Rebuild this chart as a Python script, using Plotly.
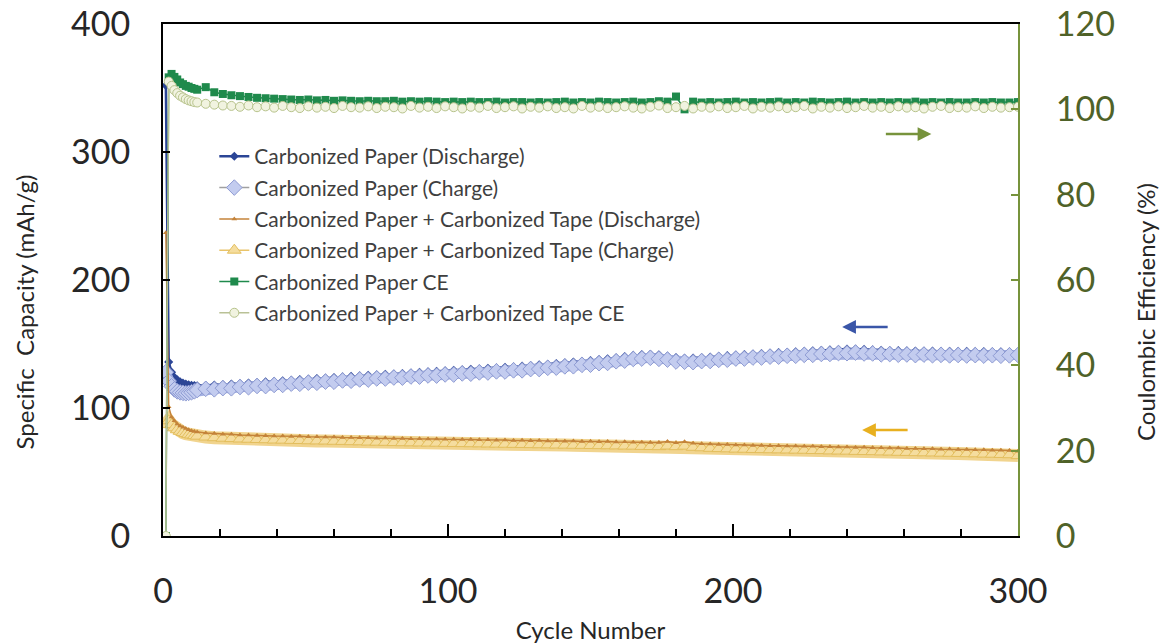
import plotly.graph_objects as go

# Cycle numbers (1..11 every cycle, then every 3rd cycle up to 300)
cycles = list(range(1, 12)) + list(range(12, 301, 3))

paper_discharge = [352, 136, 128, 124, 122, 120.5, 119.5, 118.8, 118.2, 117.8, 117.5,
    117.4, 117.6, 117.9, 118.3, 118.7, 119.1, 119.5, 119.9, 120.4, 120.8,
    121.3, 121.7, 122.2, 122.6, 123.0, 123.4, 123.8, 124.3, 124.7, 125.1,
    125.5, 125.9, 126.3, 126.6, 127.0, 127.4, 127.8, 128.2, 128.6, 129.0,
    129.4, 129.8, 130.2, 130.6, 131.0, 131.4, 131.8, 132.2, 132.7, 133.2,
    133.7, 134.2, 134.8, 135.3, 135.9, 136.5, 137.1, 137.8, 138.5, 139.3,
    140.2, 141.1, 141.8, 142.0, 141.6, 140.6, 139.5, 138.9, 139.0, 139.4,
    139.9, 140.4, 140.9, 141.4, 141.8, 142.2, 142.6, 142.9, 143.3, 143.6,
    144.0, 144.3, 144.7, 145.0, 145.4, 145.7, 146.0, 146.1, 145.8, 145.4,
    145.1, 144.9, 144.8, 144.6, 144.5, 144.5, 144.4, 144.3, 144.3, 144.2,
    144.2, 144.1, 144.1, 144.0, 144.0, 143.9, 143.8]

paper_charge = [128, 121, 117, 114.5, 113, 112.2, 111.8, 111.5, 111.8, 112.3, 113.0,
    114.0, 115.0, 114.6, 115.5, 115.4, 116.4, 116.2, 117.2, 117.1, 118.0,
    118.0, 119.0, 118.9, 119.8, 119.7, 120.6, 120.5, 121.5, 121.3, 122.3,
    122.2, 123.1, 123.0, 123.8, 123.7, 124.6, 124.5, 125.4, 125.3, 126.2,
    126.1, 127.0, 126.8, 127.8, 127.7, 128.6, 128.5, 129.4, 129.4, 130.4,
    130.4, 131.4, 131.5, 132.5, 132.6, 133.7, 133.8, 135.0, 135.2, 136.5,
    137.0, 138.3, 138.6, 139.2, 138.4, 137.8, 136.3, 136.1, 135.8, 136.6,
    136.7, 137.6, 137.7, 138.6, 138.6, 139.4, 139.4, 140.1, 140.1, 140.8,
    140.8, 141.5, 141.5, 142.2, 142.2, 142.9, 142.8, 143.3, 142.6, 142.6,
    141.9, 142.1, 141.6, 141.8, 141.3, 141.7, 141.2, 141.5, 141.1, 141.4,
    141.0, 141.3, 140.9, 141.2, 140.8, 141.1, 141.4]

tape_discharge = [237, 101, 93, 90, 87.5, 86, 85, 84, 83, 82.3, 81.7,
    81.3, 80.4, 80.1, 79.5, 79.4, 78.9, 78.9, 78.5, 78.4, 78.1,
    78.2, 77.8, 77.9, 77.5, 77.6, 77.3, 77.3, 77.0, 77.0, 76.7,
    76.7, 76.4, 76.5, 76.1, 76.2, 75.9, 76.0, 75.7, 75.8, 75.5,
    75.6, 75.3, 75.4, 75.1, 75.2, 74.9, 75.0, 74.7, 74.8, 74.5,
    74.6, 74.3, 74.4, 74.1, 74.2, 73.9, 74.0, 73.7, 73.8, 73.5,
    73.6, 73.3, 73.3, 73.0, 73.1, 73.8, 72.9, 73.6, 72.5, 72.0,
    71.8, 71.4, 71.4, 71.0, 71.1, 70.7, 70.8, 70.5, 70.6, 70.3,
    70.4, 70.1, 70.1, 69.8, 69.8, 69.5, 69.6, 69.2, 69.3, 69.0,
    69.0, 68.7, 68.7, 68.4, 68.4, 68.1, 68.2, 67.8, 67.9, 67.6,
    67.6, 67.3, 67.3, 67.0, 67.0, 66.7, 66.3]

tape_charge = [87, 90, 87, 84.5, 83, 81.8, 80.8, 80.0, 79.4, 78.9, 78.4,
    78.0, 77.3, 76.8, 76.4, 76.1, 75.8, 75.6, 75.4, 75.2, 75.0,
    74.9, 74.7, 74.6, 74.4, 74.3, 74.2, 74.0, 73.9, 73.7, 73.6,
    73.4, 73.3, 73.2, 73.0, 72.9, 72.8, 72.7, 72.6, 72.5, 72.4,
    72.3, 72.2, 72.1, 72.0, 71.9, 71.8, 71.7, 71.6, 71.5, 71.4,
    71.3, 71.2, 71.1, 71.0, 70.9, 70.8, 70.7, 70.6, 70.5, 70.4,
    70.3, 70.2, 70.0, 69.9, 69.8, 70.3, 69.8, 70.2, 69.3, 68.9,
    68.5, 68.3, 68.1, 67.9, 67.8, 67.6, 67.5, 67.4, 67.3, 67.2,
    67.1, 67.0, 66.8, 66.7, 66.5, 66.4, 66.3, 66.1, 66.0, 65.9,
    65.7, 65.6, 65.4, 65.3, 65.1, 65.0, 64.9, 64.7, 64.6, 64.5,
    64.3, 64.2, 64.0, 63.9, 63.7, 63.5, 62.8]

paper_ce = [0, 107.5, 108.3, 107.6, 107.0, 106.3, 105.9, 105.5, 105.3, 105.0, 104.8,
    104.6, 105.2, 104.0, 103.6, 103.3, 103.1, 102.9, 102.7, 102.6, 102.5,
    102.4, 102.3, 102.2, 102.3, 102.1, 102.2, 102.0, 102.1, 102.0, 101.9,
    102.0, 101.9, 101.9, 102.0, 101.8, 101.9, 101.8, 101.9, 101.8, 101.7,
    101.8, 101.7, 101.8, 101.7, 101.7, 101.8, 101.6, 101.7, 101.7, 101.6,
    101.7, 101.6, 101.7, 101.8, 101.6, 101.7, 101.6, 101.8, 101.7, 101.6,
    101.7, 101.8, 101.6, 101.7, 101.9, 101.8, 103.0, 100.0, 101.8, 101.6,
    101.7, 101.6, 101.7, 101.8, 101.6, 101.7, 101.6, 101.7, 101.8, 101.6,
    101.7, 101.6, 101.8, 101.7, 101.6, 101.7, 101.8, 101.6, 101.7, 101.6,
    101.7, 101.6, 101.7, 101.6, 101.8, 101.6, 101.7, 101.6, 101.7, 101.6,
    101.6, 101.7, 101.6, 101.7, 101.6, 101.6, 101.7]

tape_ce = [0, 106.5, 105.5, 104.5, 103.8, 103.2, 102.8, 102.4, 102.1, 101.9, 101.7,
    101.6, 101.3, 101.1, 100.9, 100.8, 100.6, 100.9, 100.5, 100.7, 100.4,
    100.8, 100.5, 100.3, 100.7, 100.4, 100.6, 100.3, 100.8, 100.5, 100.4,
    100.7, 100.3, 100.6, 100.5, 100.2, 100.8, 100.4, 100.6, 100.3, 100.7,
    100.5, 100.2, 100.6, 100.4, 100.8, 100.3, 100.5, 100.7, 100.2, 100.6,
    100.4, 100.7, 100.3, 100.5, 100.2, 100.8, 100.4, 100.6, 100.3, 100.5,
    100.7, 100.4, 100.2, 100.6, 100.9, 100.3, 100.5, 100.8, 100.2, 100.6,
    100.4, 100.7, 100.3, 100.5, 100.8, 100.2, 100.6, 100.4, 100.7, 100.3,
    100.5, 100.8, 100.2, 100.6, 100.4, 100.7, 100.3, 100.5, 100.8, 100.4,
    100.6, 100.3, 100.7, 100.4, 100.5, 100.2, 100.6, 100.8, 100.3, 100.5,
    100.4, 100.7, 100.3, 100.6, 100.4, 100.5, 100.6]

FONT = "Lato"
fig = go.Figure()

fig.add_trace(go.Scatter(x=cycles, y=paper_discharge, name="Carbonized Paper (Discharge)",
    legendrank=1, legendgroup="g1",
    mode="lines+markers", line=dict(color="#2B4596", width=2.5),
    marker=dict(symbol="diamond", size=7, color="#2B4596")))
fig.add_trace(go.Scatter(x=cycles, y=paper_charge, showlegend=False, hoverinfo="skip", legendgroup="g2",
    mode="lines", line=dict(color="#A3B0E2", width=10)))
fig.add_trace(go.Scatter(x=cycles, y=paper_charge, name="Carbonized Paper (Charge)",
    legendrank=2, legendgroup="g2",
    mode="lines+markers", line=dict(color="#A0A0A0", width=1.5),
    marker=dict(symbol="diamond", size=12, color="#C3CCEF", line=dict(color="#8E9BD3", width=1))))
fig.add_trace(go.Scatter(x=cycles, y=tape_charge, showlegend=False, hoverinfo="skip", legendgroup="g4",
    mode="lines", line=dict(color="#F1D48E", width=13)))
fig.add_trace(go.Scatter(x=cycles, y=tape_charge, name="Carbonized Paper + Carbonized Tape (Charge)",
    legendrank=4, legendgroup="g4",
    mode="lines+markers", line=dict(color="#E9C46A", width=1.5),
    marker=dict(symbol="triangle-up", size=12, color="#F5DD9E", line=dict(color="#E3BE5E", width=1))))
fig.add_trace(go.Scatter(x=cycles, y=tape_discharge, name="Carbonized Paper + Carbonized Tape (Discharge)",
    legendrank=3, legendgroup="g3",
    mode="lines+markers", line=dict(color="#C4833A", width=1.5),
    marker=dict(symbol="triangle-up", size=5, color="#C4833A")))
fig.add_trace(go.Scatter(x=cycles, y=paper_ce, name="Carbonized Paper CE", yaxis="y2",
    legendrank=5, legendgroup="g5",
    mode="lines+markers", line=dict(color="#1F8A4C", width=1.5),
    marker=dict(symbol="square", size=8, color="#1F8A4C")))
fig.add_trace(go.Scatter(x=cycles, y=tape_ce, name="Carbonized Paper + Carbonized Tape CE", yaxis="y2",
    legendrank=6, legendgroup="g6",
    mode="lines+markers", line=dict(color="#B9C196", width=1.5),
    marker=dict(symbol="circle", size=9, color="#F1F3E0", line=dict(color="#B7C38C", width=1))))

# arrows
fig.add_annotation(x=238.3, y=163.3, xref="x", yref="y", ax=47, ay=0, text="",
    showarrow=True, arrowhead=2, arrowsize=1.1, arrowwidth=2.5, arrowcolor="#3A56A8")
fig.add_annotation(x=245.3, y=82.8, xref="x", yref="y", ax=47, ay=0, text="",
    showarrow=True, arrowhead=2, arrowsize=1.1, arrowwidth=2.5, arrowcolor="#E8B020")
fig.add_annotation(x=269.6, y=94.2, xref="x", yref="y2", ax=-47, ay=0, text="",
    showarrow=True, arrowhead=2, arrowsize=1.1, arrowwidth=2.5, arrowcolor="#77933C")

# y-axis titles (placed as annotations to match the reference position)
fig.add_annotation(x=-0.162, y=0.4375, xref="paper", yref="paper", text="Specific  Capacity (mAh/g)",
    showarrow=False, textangle=-90, xanchor="center", yanchor="middle",
    font=dict(family=FONT, size=24, color="#262626"))
fig.add_annotation(x=1.1485, y=0.4375, xref="paper", yref="paper", text="Coulombic Efficiency (%)",
    showarrow=False, textangle=-90, xanchor="center", yanchor="middle",
    font=dict(family=FONT, size=24, color="#262626"))

fig.update_layout(
    width=1170, height=644,
    margin=dict(l=163, r=152, t=24, b=108),
    paper_bgcolor="white", plot_bgcolor="white",
    font=dict(family=FONT, color="#262626"),
    showlegend=True,
    legend=dict(x=0.06, y=0.781, xanchor="left", yanchor="top", traceorder="grouped",
        bgcolor="rgba(0,0,0,0)", font=dict(family=FONT, size=21, color="#3F3F3F"),
        tracegroupgap=1),
    xaxis=dict(range=[0, 300], dtick=100, tick0=0, showgrid=False, zeroline=False, automargin=False,
        showline=True, linecolor="black", linewidth=2, mirror=True,
        ticks="inside", ticklen=12, tickwidth=2, tickcolor="black",
        minor=dict(dtick=20, ticks="inside", ticklen=7, tickwidth=2, tickcolor="black"),
        tickfont=dict(family=FONT, size=34, color="#262626"), ticklabelstandoff=24,
        ticklabeloverflow="allow",
        title=dict(text="Cycle Number", font=dict(family=FONT, size=24, color="#262626"), standoff=30)),
    yaxis=dict(range=[0, 400], dtick=100, showgrid=False, zeroline=False, automargin=False,
        showline=True, linecolor="black", linewidth=2,
        ticks="inside", ticklen=7, tickwidth=2, tickcolor="black", ticklabeloverflow="allow",
        tickfont=dict(family=FONT, size=34, color="#262626"), ticklabelstandoff=24),
    yaxis2=dict(range=[0, 120], dtick=20, overlaying="y", side="right", showgrid=False, zeroline=False,
        automargin=False, showline=True, linecolor="#77933C", linewidth=2,
        ticks="inside", ticklen=7, tickwidth=2, tickcolor="#77933C", ticklabeloverflow="allow",
        tickfont=dict(family=FONT, size=34, color="#4F6228"), ticklabelstandoff=29),
)

fig.write_html("out.html", config={"displayModeBar": False},
    post_script="document.body.style.margin='0';document.body.style.overflow='hidden';")
